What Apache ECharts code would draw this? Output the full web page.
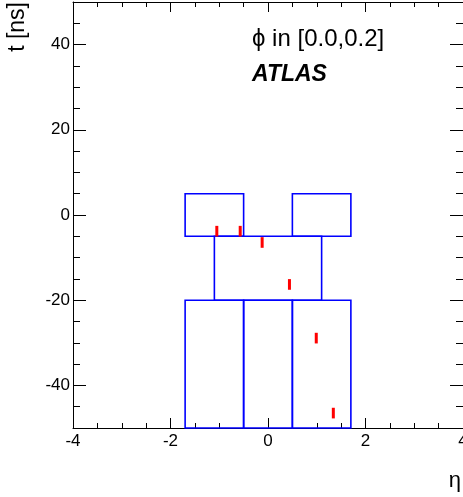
<!DOCTYPE html>
<html>
<head>
<meta charset="utf-8">
<script src="https://cdn.jsdelivr.net/npm/echarts@6/dist/echarts.min.js"></script>
<style>
  html, body { margin: 0; padding: 0; background: #fff; }
  #chart { width: 463px; height: 497px; }
</style>
</head>
<body>
<div id="chart"></div>
<script>
// cells (blue boxes): eta range and time range
const cellEtaMin = [-1.7, 0.5, -1.1, -1.7, -0.5, 0.5]
const cellEtaMax = [-0.5, 1.7, 1.1, -0.5, 0.5, 1.7]
const cellTMin = [-5, -5, -20, -50, -50, -50]
const cellTMax = [5, 5, -5, -20, -20, -20]

// hits (red marks)
const hitEta = [-1.05, -0.57, -0.12, 0.44, 0.99, 1.34]
const hitT = [-3.8, -3.8, -6.45, -16.3, -28.9, -46.5]
const hitHalf = 1.25

// axis ticks
const xLabels = [-4, -2, 0, 2, 4]
const yLabels = [-40, -20, 0, 20, 40]

const font = '"Liberation Sans", Arial, sans-serif'

const chart = echarts.init(document.getElementById('chart'))

const cells = cellEtaMin.map((v, i) => [v, cellEtaMax[i], cellTMin[i], cellTMax[i]])
const hits = hitEta.map((v, i) => [v, hitT[i]])

const xBase = {
  type: 'value', min: -4, max: 4, interval: 2,
  splitLine: { show: false },
  axisLine: { onZero: false, lineStyle: { color: '#000', width: 1 } },
  axisTick: { inside: true, length: 10, lineStyle: { color: '#000' } },
  minorTick: { show: true, splitNumber: 4, length: 5, lineStyle: { color: '#000' } }
}
const yMinor = {
  type: 'value', min: -50, max: 50, interval: 5,
  splitLine: { show: false },
  axisLine: { onZero: false, lineStyle: { color: '#000', width: 1 } },
  axisTick: { inside: true, length: 7, lineStyle: { color: '#000' } },
  axisLabel: { show: false }
}
const yMajor = {
  type: 'value', min: -50, max: 50,
  splitLine: { show: false },
  axisLine: { show: false, onZero: false },
  axisTick: { inside: true, length: 13, customValues: yLabels, lineStyle: { color: '#000' } },
  axisLabel: { show: false }
}

const option = {
  animation: false,
  grid: { left: 73, right: 0, top: 2, bottom: 69, outerBoundsMode: 'none', containLabel: false },
  xAxis: [
    Object.assign({}, xBase, {
      position: 'bottom',
      axisLabel: {
        margin: 5, fontSize: 17, color: '#000', fontFamily: font,
        customValues: xLabels
      }
    }),
    Object.assign({}, xBase, { position: 'top', axisLabel: { show: false } })
  ],
  yAxis: [
    Object.assign({}, yMinor, {
      position: 'left',
      axisLabel: {
        show: true, margin: 3, fontSize: 17, color: '#000', fontFamily: font,
        customValues: yLabels
      }
    }),
    Object.assign({}, yMajor, { position: 'left' }),
    Object.assign({}, yMinor, { position: 'right', axisLine: { show: false, onZero: false } }),
    Object.assign({}, yMajor, { position: 'right' })
  ],
  graphic: [
    {
      type: 'text', x: 18, y: 2, rotation: Math.PI / 2,
      style: { text: 't [ns]', font: '23px ' + font, fill: '#000', align: 'right', verticalAlign: 'middle' }
    },
    {
      type: 'text', x: 461, y: 481,
      style: { text: 'η', font: '22px ' + font, fill: '#000', align: 'right', verticalAlign: 'middle' }
    },
    {
      type: 'text', x: 252, y: 39,
      style: { text: 'ϕ in [0.0,0.2]', font: '24px ' + font, fill: '#000', align: 'left', verticalAlign: 'middle' }
    },
    {
      type: 'text', x: 252, y: 75,
      style: { text: 'ATLAS', font: 'italic bold 23px ' + font, fill: '#000', align: 'left', verticalAlign: 'middle' }
    }
  ],
  series: [
    {
      type: 'custom',
      clip: false,
      data: cells,
      encode: { x: [0, 1], y: [2, 3] },
      renderItem(params, api) {
        const p0 = api.coord([api.value(0), api.value(3)])
        const p1 = api.coord([api.value(1), api.value(2)])
        return {
          type: 'rect',
          shape: { x: p0[0], y: p0[1], width: p1[0] - p0[0], height: p1[1] - p0[1] },
          style: { fill: 'none', stroke: '#0000ff', lineWidth: 1.6 }
        }
      }
    },
    {
      type: 'custom',
      clip: false,
      data: hits,
      encode: { x: 0, y: 1 },
      renderItem(params, api) {
        const top = api.coord([api.value(0), api.value(1) + hitHalf])
        const bot = api.coord([api.value(0), api.value(1) - hitHalf])
        return {
          type: 'rect',
          shape: { x: top[0] - 1.5, y: top[1], width: 3, height: bot[1] - top[1] },
          style: { fill: '#ff0000' }
        }
      }
    }
  ]
}

chart.setOption(option)
</script>
</body>
</html>
